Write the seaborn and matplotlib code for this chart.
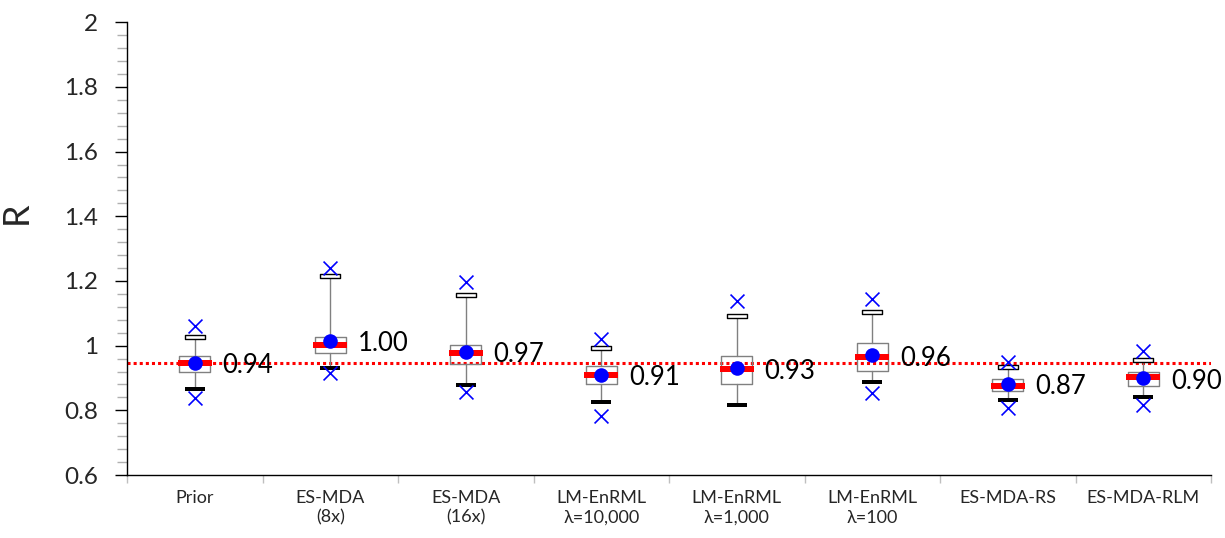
import numpy as np
import matplotlib
matplotlib.use("Agg")
import matplotlib.pyplot as plt
from matplotlib.path import Path
import seaborn as sns

# ---------------- data ----------------
categories = ["Prior", "ES-MDA\n(8x)", "ES-MDA\n(16x)", "LM-EnRML\nλ=10,000",
              "LM-EnRML\nλ=1,000", "LM-EnRML\nλ=100", "ES-MDA-RS", "ES-MDA-RLM"]
max_vals = [1.061, 1.239, 1.196, 1.021, 1.139, 1.144, 0.950, 0.985]
whisk_hi = [1.028, 1.215, 1.157, 0.992, 1.091, 1.105, 0.934, 0.956]
q3_vals = [0.969, 1.026, 1.001, 0.936, 0.967, 1.007, 0.896, 0.920]
medians = [0.946, 1.001, 0.976, 0.910, 0.927, 0.964, 0.875, 0.902]
means = [0.946, 1.015, 0.981, 0.910, 0.930, 0.970, 0.881, 0.899]
q1_vals = [0.919, 0.978, 0.943, 0.882, 0.881, 0.923, 0.859, 0.875]
whisk_lo = [0.865, 0.930, 0.878, 0.826, 0.818, 0.888, 0.831, 0.840]
min_vals = [0.837, 0.915, 0.856, 0.783, np.nan, 0.853, 0.806, 0.817]
mean_labels = ["0.94", "1.00", "0.97", "0.91", "0.93", "0.96", "0.87", "0.90"]
reference = 0.946
ytick_vals = [0.6, 0.8, 1.0, 1.2, 1.4, 1.6, 1.8, 2.0]
ytick_labels = ["0.6", "0.8", "1", "1.2", "1.4", "1.6", "1.8", "2"]

# ---------------- style ----------------
sns.set_theme(style="white")
plt.rcParams["font.family"] = ["Lato", "DejaVu Sans"]

fig = plt.figure(figsize=(12.25, 5.38), dpi=100)
ax = fig.add_axes([0.1037, 0.1171, 0.8849, 0.8415])

xpos = np.arange(len(categories))

# reference dotted line
ax.axhline(reference, color="red", lw=2.2, ls=(0, (1, 1)), zorder=1.5)

# boxes + whiskers
stats = []
for i in range(len(categories)):
    stats.append(dict(med=medians[i], q1=q1_vals[i], q3=q3_vals[i],
                      whislo=whisk_lo[i], whishi=whisk_hi[i], fliers=[]))
ax.bxp(stats, positions=xpos, widths=0.23, showcaps=False, showfliers=False,
       boxprops=dict(color="#808080", lw=1),
       whiskerprops=dict(color="#808080", lw=1),
       medianprops=dict(lw=0), manage_ticks=False, zorder=2)

cap_path = Path([(-1, -0.21), (1, -0.21), (1, 0.21), (-1, 0.21), (-1, -0.21)],
                [Path.MOVETO, Path.LINETO, Path.LINETO, Path.LINETO, Path.CLOSEPOLY])
med_path = Path([(-1, -0.2), (1, -0.2), (1, 0.2), (-1, 0.2), (-1, -0.2)],
                [Path.MOVETO, Path.LINETO, Path.LINETO, Path.LINETO, Path.CLOSEPOLY])

# upper caps (white rectangles)
sns.scatterplot(x=xpos, y=whisk_hi, marker=cap_path, s=228, color="white",
                edgecolor="black", linewidth=1, ax=ax, zorder=3)
# lower caps (black bars)
sns.scatterplot(x=xpos, y=whisk_lo, marker=cap_path, s=228, color="black",
                edgecolor="black", linewidth=0, ax=ax, zorder=3)
# medians (red bars)
sns.scatterplot(x=xpos, y=medians, marker=med_path, s=630, color="red",
                edgecolor="red", linewidth=0, ax=ax, zorder=4)
# means (blue dots)
sns.scatterplot(x=xpos, y=means, marker="o", s=110, color="blue",
                edgecolor="blue", linewidth=0, ax=ax, zorder=5)
# extremes (blue x)
sns.scatterplot(x=np.concatenate([xpos, xpos]),
                y=np.concatenate([max_vals, min_vals]),
                marker="x", s=100, color="blue", linewidth=1.2, ax=ax, zorder=5)

for i, lbl in enumerate(mean_labels):
    ax.annotate(lbl, (xpos[i], means[i]), xytext=(20, -2),
                textcoords="offset points", ha="left", va="center",
                fontsize=18.5, color="black", zorder=6)

# ---------------- axes ----------------
ax.set_xlim(-0.5, len(categories) - 0.5)
ax.set_ylim(0.6, 2.0)
ax.set_xticks(xpos)
ax.set_xticklabels(categories, fontsize=13, linespacing=1.25)
ax.set_xticks(np.arange(-0.5, len(categories), 1.0), minor=True)
ax.tick_params(axis="x", which="major", length=0, pad=11, bottom=True)
ax.tick_params(axis="x", which="minor", length=6, width=1, color="#bfbfbf",
               direction="out", bottom=True)

ax.set_yticks(ytick_vals)
ax.set_yticklabels(ytick_labels)
ax.set_yticks(np.arange(0.6, 2.0001, 0.04), minor=True)
ax.tick_params(axis="y", which="major", length=9, width=1, color="black",
               direction="out", left=True, labelsize=17.5, pad=12)
ax.tick_params(axis="y", which="minor", length=7, width=1, color="#b0b0b0",
               direction="out", left=True)

ax.set_xlabel("")
ax.set_ylabel("R", fontsize=26)
ax.yaxis.set_label_coords(-0.087, 0.579)

for side in ["top", "right"]:
    ax.spines[side].set_visible(False)
for side in ["left", "bottom"]:
    ax.spines[side].set_color("black")
    ax.spines[side].set_linewidth(1)
ax.grid(False)

fig.savefig("out.png", dpi=100)
